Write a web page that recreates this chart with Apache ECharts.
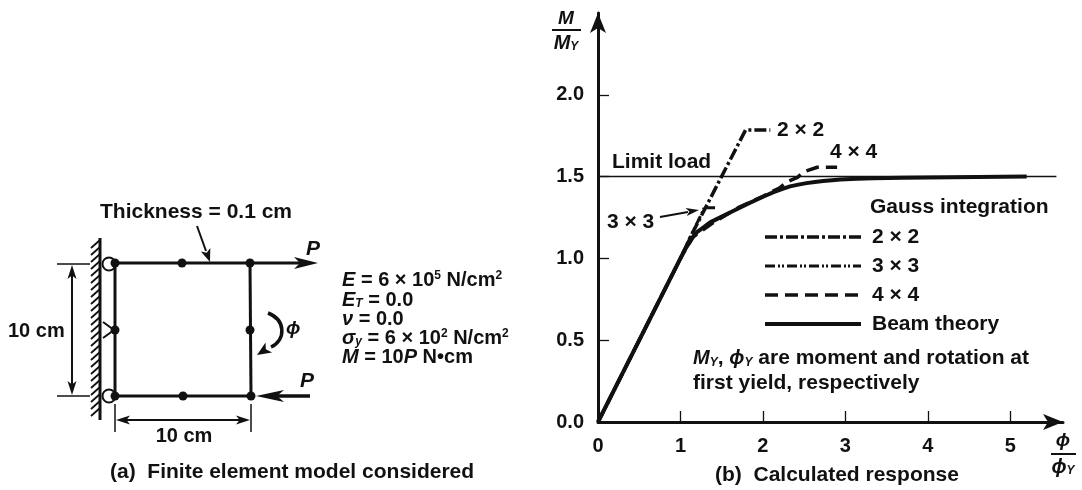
<!DOCTYPE html>
<html>
<head>
    <meta charset="UTF-8">
    <title>Calculated response</title>
    <script src="https://cdn.jsdelivr.net/npm/echarts@6/dist/echarts.min.js"></script>
    <style>
        body { margin: 0; background: #fff; }
        #main { width: 1082px; height: 490px; }
    </style>
</head>
<body>
<div id="main"></div>
<script type="text/javascript">
    // tick positions
    var xTicks = [0, 1, 2, 3, 4, 5];
    var yTicks = [0, 0.5, 1.0, 1.5, 2.0];

    // curves (phi/phiY, M/MY)
    var beamPhi = [0, 1.0, 1.05, 1.1, 1.15, 1.2, 1.28, 1.36, 1.44, 1.52, 1.62, 1.72, 1.82, 1.93, 2.03, 2.13, 2.23, 2.33, 2.43, 2.53, 2.63, 2.73, 2.84, 2.94, 3.14, 3.34, 3.7, 4.0, 4.6, 5.2];
    var beamM   = [0, 1.0, 1.05, 1.09, 1.13, 1.16, 1.19, 1.22, 1.24, 1.26, 1.285, 1.31, 1.335, 1.36, 1.383, 1.405, 1.424, 1.44, 1.451, 1.46, 1.467, 1.473, 1.478, 1.482, 1.487, 1.49, 1.493, 1.495, 1.498, 1.5];
    var g2Phi = [0, 1.0, 1.12, 1.79, 2.09];
    var g2M   = [0, 1.0, 1.13, 1.785, 1.785];
    var g3Phi = [0, 1.0, 1.12, 1.29, 1.42];
    var g3M   = [0, 1.0, 1.13, 1.31, 1.31];
    var g4Phi = [0, 1.0, 1.15, 1.4, 1.7, 2.0, 2.2, 2.3, 2.42, 2.5, 2.66, 2.9];
    var g4M   = [0, 1.0, 1.13, 1.22, 1.31, 1.38, 1.43, 1.47, 1.495, 1.53, 1.557, 1.557];
    var limitPhi = [0, 5.56];
    var limitM   = [1.5, 1.5];

    var legendNames = ['2 × 2', '3 × 3', '4 × 4', 'Beam theory'];

    var INK = '#111';
    var FONT = '"Liberation Sans", Arial, sans-serif';

    function pairs(xs, ys) {
        return xs.map(function (x, i) { return [x, ys[i]]; });
    }

    // small drawing helpers for the left-hand sketch
    function seg(x1, y1, x2, y2, w) {
        return {type: 'line', silent: true, shape: {x1: x1, y1: y1, x2: x2, y2: y2},
            style: {stroke: INK, lineWidth: w || 3}};
    }
    function head(tx, ty, ang, len, hw) {
        var c = Math.cos(ang), s = Math.sin(ang);
        var bx = tx - len * c, by = ty - len * s;
        var nx = -s * hw, ny = c * hw;
        return {type: 'polygon', silent: true,
            shape: {points: [[tx, ty], [bx + nx, by + ny], [bx + len * 0.25 * c, by + len * 0.25 * s], [bx - nx, by - ny]]},
            style: {fill: INK}};
    }
    function dot(x, y, r) {
        return {type: 'circle', silent: true, shape: {cx: x, cy: y, r: r || 4.5}, style: {fill: INK}};
    }
    function txt(x, y, text, extra) {
        var st = {text: text, fill: INK, fontFamily: FONT, fontSize: 21, fontWeight: 'bold',
            align: 'left', verticalAlign: 'middle'};
        for (var k in extra) st[k] = extra[k];
        return {type: 'text', silent: true, x: x, y: y, style: st};
    }

    var richSet = {
        i: {fontStyle: 'italic', fontWeight: 'bold', fontFamily: FONT, fontSize: 20, fill: INK},
        sup: {fontWeight: 'bold', fontFamily: FONT, fontSize: 12, lineHeight: 12, verticalAlign: 'top', fill: INK},
        sub: {fontWeight: 'bold', fontFamily: FONT, fontSize: 12, lineHeight: 12, verticalAlign: 'bottom', fill: INK},
        isub: {fontStyle: 'italic', fontWeight: 'bold', fontFamily: FONT, fontSize: 12, lineHeight: 12, verticalAlign: 'bottom', fill: INK}
    };

    var gfx = [];
    // wall with hatching
    gfx.push(seg(100, 238, 100, 420, 3));
    for (var y = 240; y <= 412; y += 7) gfx.push(seg(91, y + 8, 100, y, 1.8));
    // rollers and pin
    gfx.push({type: 'circle', silent: true, shape: {cx: 109, cy: 264, r: 6.5}, style: {fill: '#fff', stroke: INK, lineWidth: 2}});
    gfx.push({type: 'circle', silent: true, shape: {cx: 109, cy: 396, r: 6.5}, style: {fill: '#fff', stroke: INK, lineWidth: 2}});
    gfx.push({type: 'polyline', silent: true, shape: {points: [[103, 322], [114, 330], [103, 338]]}, style: {stroke: INK, lineWidth: 2, fill: null}});
    // element edges
    gfx.push(seg(115, 263, 250, 263, 3));
    gfx.push(seg(250, 263, 251, 396, 3));
    gfx.push(seg(115, 396, 251, 396, 3));
    gfx.push(seg(115, 263, 115, 396, 3));
    [[115, 263], [182, 263], [250, 263], [115, 330], [250, 330], [115, 396], [183, 396], [251, 396]].forEach(function (p) {
        gfx.push(dot(p[0], p[1]));
    });
    // loads
    gfx.push(seg(250, 263, 300, 263, 3));
    gfx.push(head(318, 263, 0, 24, 6));
    gfx.push(txt(306, 249, 'P', {fontStyle: 'italic'}));
    gfx.push(seg(275, 396, 310, 396, 3.5));
    gfx.push(head(256, 396, Math.PI, 28, 6));
    gfx.push(txt(300, 381, 'P', {fontStyle: 'italic'}));
    // rotation
    gfx.push({type: 'bezierCurve', silent: true,
        shape: {x1: 268, y1: 313, cpx1: 286, cpy1: 320, cpx2: 286, cpy2: 340, x2: 271, y2: 347},
        style: {stroke: INK, lineWidth: 3.5, fill: null}});
    gfx.push(head(257, 355, Math.atan2(9, -14), 14, 6));
    gfx.push(txt(286, 329, 'ϕ', {fontStyle: 'italic', fontSize: 19}));
    // thickness note
    gfx.push(txt(100, 212, 'Thickness = 0.1 cm'));
    gfx.push(seg(197, 226, 206, 251, 2));
    gfx.push(head(210, 262, Math.atan2(36, 13), 13, 5));
    // vertical dimension
    gfx.push(seg(57, 264, 90, 264, 1.5));
    gfx.push(seg(57, 396, 90, 396, 1.5));
    gfx.push(seg(72, 275, 72, 385, 2));
    gfx.push(head(72, 265, -Math.PI / 2, 14, 4.5));
    gfx.push(head(72, 395, Math.PI / 2, 14, 4.5));
    gfx.push(txt(8, 331, '10 cm', {fontSize: 20}));
    // horizontal dimension
    gfx.push(seg(115, 404, 115, 432, 1.5));
    gfx.push(seg(251, 404, 251, 432, 1.5));
    gfx.push(seg(126, 420, 240, 420, 2));
    gfx.push(head(116, 420, Math.PI, 14, 4.5));
    gfx.push(head(250, 420, 0, 14, 4.5));
    gfx.push(txt(184, 436, '10 cm', {fontSize: 20, align: 'center'}));
    // material data
    var matLines = [
        '{i|E} = 6 × 10{sup|5} N/cm{sup|2}',
        '{i|E}{isub|T} = 0.0',
        '{i|ν} = 0.0',
        '{i|σ}{isub|y} = 6 × 10{sup|2} N/cm{sup|2}',
        '{i|M} = 10{i|P} N•cm'
    ];
    var matY = [280, 300, 319, 338, 357];
    matLines.forEach(function (t, i) {
        gfx.push(txt(342, matY[i], t, {fontSize: 20, lineHeight: 20, rich: richSet}));
    });
    gfx.push(txt(110, 472, '(a)  Finite element model considered'));

    // right-hand chart annotations
    gfx.push(txt(612, 162, 'Limit load'));
    gfx.push(txt(777, 130, '2 × 2'));
    gfx.push(txt(830, 152, '4 × 4'));
    gfx.push(txt(607, 222, '3 × 3'));
    gfx.push(seg(660, 217, 688, 212, 1.8));
    gfx.push(head(699, 210, Math.atan2(-6, 39), 13, 4));
    gfx.push(txt(870, 207, 'Gauss integration'));
    gfx.push(txt(693, 358, '{i|M}{isub|Y}, {i|ϕ}{isub|Y} are moment and rotation at', {rich: richSet, lineHeight: 22}));
    gfx.push(txt(693, 383, 'first yield, respectively'));
    gfx.push(txt(715, 475, '(b)  Calculated response'));
    // axis names as fractions
    gfx.push(txt(566, 19, 'M', {fontStyle: 'italic', fontSize: 19, align: 'center'}));
    gfx.push(seg(552, 30, 581, 30, 2));
    gfx.push(txt(566, 43, '{i|M}{isub|Y}', {rich: richSet, align: 'center', lineHeight: 20}));
    gfx.push(txt(1063, 441, 'ϕ', {fontStyle: 'italic', fontSize: 19, align: 'center'}));
    gfx.push(seg(1051, 454, 1076, 454, 2));
    gfx.push(txt(1063, 467, '{i|ϕ}{isub|Y}', {rich: richSet, align: 'center', lineHeight: 20}));

    var labelStyle = {color: INK, fontFamily: FONT, fontSize: 20, fontWeight: 'bold'};

    var myChart = echarts.init(document.getElementById('main'), null, {renderer: 'canvas'});
    var option = {
        backgroundColor: '#fff',
        animation: false,
        color: [INK],
        grid: {left: 598, right: 19, top: 13, bottom: 68, outerBoundsMode: 'none', containLabel: false},
        legend: {
            data: legendNames,
            orient: 'vertical',
            left: 763,
            top: 226,
            padding: 0,
            itemWidth: 96,
            itemHeight: 14,
            itemGap: 7,
            selectedMode: false,
            itemStyle: {opacity: 0},
            lineStyle: {width: 'inherit', type: 'inherit', color: INK},
            textStyle: {color: INK, fontFamily: FONT, fontSize: 21, fontWeight: 'bold', lineHeight: 22, padding: [0, 0, 0, 6]}
        },
        xAxis: {
            type: 'value',
            min: 0,
            max: 5.64,
            splitLine: {show: false},
            axisLine: {lineStyle: {color: INK, width: 3}, symbol: ['none', 'arrow'], symbolSize: [12, 20]},
            axisTick: {inside: true, length: 11, customValues: xTicks, lineStyle: {color: INK, width: 1.3}},
            axisLabel: Object.assign({margin: 14, customValues: xTicks}, labelStyle)
        },
        yAxis: {
            type: 'value',
            min: 0,
            max: 2.5,
            splitLine: {show: false},
            axisLine: {lineStyle: {color: INK, width: 3}, symbol: ['none', 'arrow'], symbolSize: [12, 20]},
            axisTick: {inside: true, length: 11, customValues: yTicks, lineStyle: {color: INK, width: 1.3}},
            axisLabel: Object.assign({margin: 14, customValues: yTicks, formatter: function (v) { return v.toFixed(1); }}, labelStyle)
        },
        series: [
            {name: 'Limit load', type: 'line', data: pairs(limitPhi, limitM), symbol: 'none', silent: true,
                itemStyle: {color: INK}, lineStyle: {color: INK, width: 1.5}},
            {name: '2 × 2', type: 'line', data: pairs(g2Phi, g2M), symbol: 'none', itemStyle: {color: INK},
                lineStyle: {color: INK, width: 3.5, type: [12, 3, 3, 3]}},
            {name: '3 × 3', type: 'line', data: pairs(g3Phi, g3M), symbol: 'none', itemStyle: {color: INK},
                lineStyle: {color: INK, width: 3, type: [10, 3, 2, 2, 2, 3]}},
            {name: '4 × 4', type: 'line', data: pairs(g4Phi, g4M), symbol: 'none', itemStyle: {color: INK},
                lineStyle: {color: INK, width: 3.5, type: [13, 7]}},
            {name: 'Beam theory', type: 'line', data: pairs(beamPhi, beamM), symbol: 'none', itemStyle: {color: INK},
                lineStyle: {color: INK, width: 4}}
        ],
        graphic: gfx
    };
    myChart.setOption(option);
</script>
</body>
</html>
